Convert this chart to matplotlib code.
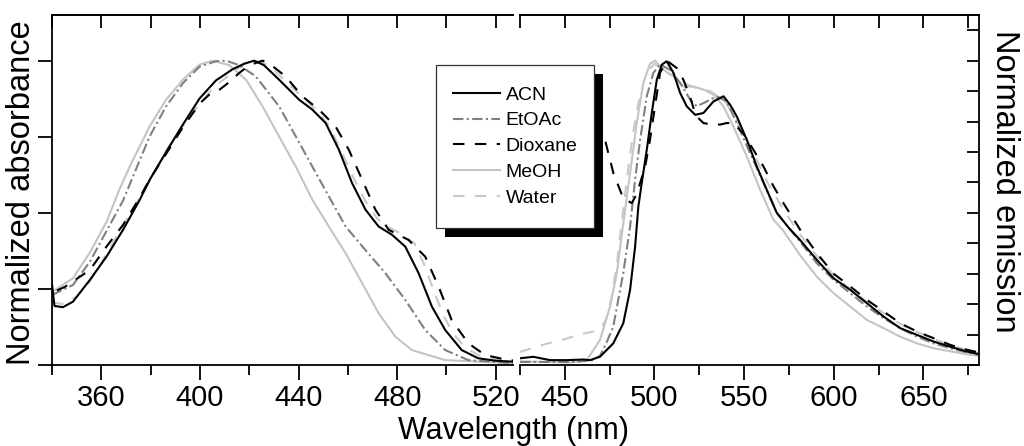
import matplotlib
matplotlib.use("Agg")
from matplotlib import pyplot as plt
from matplotlib.patches import Rectangle
from matplotlib.ticker import MultipleLocator, NullFormatter

plt.rcParams["font.family"] = ["Liberation Sans", "DejaVu Sans"]

labels = ["ACN", "EtOAc", "Dioxane", "MeOH", "Water"]
colors = ["#000000", "#808080", "#000000", "#c4c4c4", "#c8c8c8"]
styles = ["-", (0, (5, 1.6, 1, 1.6)), (0, (5.5, 5)), "-", (0, (5.5, 5))]

# absorbance spectra (left panel)
abs_acn_wl = [340, 341, 344.4, 348.5, 355.4, 362.1, 368.8, 375.6, 379.6, 386.3, 393.1, 399.8, 406.5,
              413.3, 418, 422, 426, 432.1, 440.2, 445.6, 451, 456.4, 461.7, 467.2, 472.5, 477.9,
              483.3, 488.7, 494.1, 499.5, 506.2, 512.9, 520, 527]
abs_acn = [0.266, 0.194, 0.19, 0.208, 0.28, 0.356, 0.444, 0.543, 0.608, 0.70, 0.79, 0.875, 0.935,
           0.972, 0.99, 1.0, 0.985, 0.9375, 0.872, 0.839, 0.795, 0.707, 0.598, 0.51, 0.455, 0.428,
           0.389, 0.302, 0.192, 0.115, 0.049, 0.022, 0.014, 0.011]

abs_etoac_wl = [340, 348.5, 355.4, 362.1, 368.8, 379.6, 386.3, 393.1, 399.8, 406.5, 410.6, 416,
                422.7, 432.1, 438.9, 445.6, 452.3, 459.1, 467.1, 475.2, 483.3, 491.4, 499.5, 508.9,
                527]
abs_etoac = [0.23, 0.263, 0.34, 0.44, 0.54, 0.751, 0.85, 0.926, 0.98, 0.998, 1.0, 0.985, 0.948,
             0.85, 0.751, 0.652, 0.554, 0.455, 0.378, 0.302, 0.214, 0.115, 0.049, 0.016, 0.006]

abs_diox_wl = [342, 345.3, 355.4, 362.1, 368.8, 375.6, 379.6, 386, 393, 400, 404, 408, 412, 416,
               420, 425.4, 429, 434.8, 441.5, 448.3, 455, 460.4, 465.8, 471.2, 476.6, 484.6, 491.4,
               496.8, 502.1, 508.9, 515.6, 525, 527]
abs_diox = [0.245, 0.257, 0.3125, 0.389, 0.46, 0.55, 0.61, 0.69, 0.78, 0.86, 0.89, 0.905, 0.93,
            0.96, 0.985, 1.0, 0.985, 0.948, 0.883, 0.839, 0.784, 0.707, 0.609, 0.51, 0.444, 0.411,
            0.356, 0.258, 0.148, 0.071, 0.033, 0.016, 0.015]

abs_meoh_wl = [340, 348.5, 355.4, 362.1, 367.5, 372, 379.6, 386.3, 393.1, 399.8, 405.2, 411.9,
               418.7, 425.4, 432.1, 438.9, 445.6, 452.3, 459.1, 465.8, 472.5, 479.3, 486, 499.5, 527]
abs_meoh = [0.24, 0.285, 0.37, 0.47, 0.58, 0.66, 0.784, 0.872, 0.9375, 0.987, 1.0, 0.985, 0.9375,
            0.85, 0.751, 0.652, 0.543, 0.455, 0.367, 0.269, 0.17, 0.093, 0.049, 0.016, 0.006]

abs_water_wl = [340, 345, 350, 355, 360, 366, 373, 380, 386, 393, 400, 406, 413, 418, 422, 428, 435,
                441, 447, 452, 457, 462, 467, 472, 477, 482, 487, 491, 495, 499, 503, 508, 514, 527]
abs_water = [0.205, 0.2, 0.225, 0.27, 0.335, 0.42, 0.515, 0.61, 0.70, 0.785, 0.86, 0.915, 0.96,
             0.99, 1.0, 0.985, 0.93, 0.885, 0.84, 0.79, 0.71, 0.62, 0.54, 0.48, 0.45, 0.43, 0.4,
             0.33, 0.24, 0.16, 0.1, 0.055, 0.028, 0.01]

# emission spectra (right panel)
em_acn_wl = [425, 432.4, 441.7, 451, 460.3, 464, 469.6, 477, 482.6, 486.4, 489.2, 491, 492.9, 495.7,
             498.5, 501.3, 504.1, 506.8, 510.6, 514.3, 518, 522.7, 527.3, 532.9, 538.5, 542.2,
             545.9, 551.5, 557.1, 562.6, 568.2, 575, 581.3, 590.6, 599.9, 609.2, 618.5, 627.8,
             637.1, 646.4, 655.7, 665, 674.3, 681]
em_acn = [0.022, 0.027, 0.016, 0.016, 0.018, 0.016, 0.027, 0.071, 0.137, 0.247, 0.389, 0.52, 0.598,
          0.707, 0.828, 0.9375, 0.987, 0.998, 0.96, 0.894, 0.85, 0.822, 0.828, 0.866, 0.883, 0.855,
          0.817, 0.74, 0.652, 0.576, 0.5, 0.45, 0.41, 0.345, 0.285, 0.247, 0.203, 0.159, 0.121,
          0.099, 0.077, 0.06, 0.044, 0.036]

em_etoac_wl = [425, 440, 455, 465, 469.6, 473, 477, 482.6, 486.4, 489.2, 492, 495.7, 499.4, 503.1,
               508.7, 514.3, 519.9, 523.6, 529.2, 534.7, 540.3, 545.9, 553.3, 560.8, 568.2, 575,
               581.3, 590.6, 599.9, 609.2, 618.5, 627.8, 637.1, 646.4, 655.7, 665, 674.3, 681]
em_etoac = [0.01, 0.01, 0.01, 0.015, 0.03, 0.07, 0.126, 0.302, 0.455, 0.609, 0.74, 0.883, 0.96,
            0.987, 0.97, 0.927, 0.872, 0.85, 0.866, 0.883, 0.866, 0.795, 0.696, 0.598, 0.5, 0.45,
            0.405, 0.334, 0.28, 0.236, 0.192, 0.154, 0.121, 0.093, 0.071, 0.055, 0.041, 0.033]

em_diox_wl = [468, 472.4, 477.1, 482.6, 487.3, 490, 492, 494.8, 497.5, 500.3, 503.1, 506.8, 512.4,
              516.1, 519.9, 523, 527.3, 532, 536.6, 540.3, 544, 549.6, 555.2, 560.8, 566.4, 571.9,
              581.3, 590.6, 599.9, 609.2, 618.5, 627.8, 637.1, 646.4, 655.7, 665, 674.3, 681]
em_diox = [0.80, 0.74, 0.63, 0.548, 0.532, 0.56, 0.598, 0.652, 0.74, 0.85, 0.96, 1.0, 0.976,
           0.9375, 0.88, 0.82, 0.795, 0.79, 0.79, 0.795, 0.795, 0.76, 0.707, 0.652, 0.587, 0.532,
           0.444, 0.367, 0.3, 0.258, 0.214, 0.176, 0.137, 0.11, 0.088, 0.066, 0.05, 0.041]

em_meoh_wl = [425, 440, 452.9, 462.2, 469.6, 475.2, 479, 482.6, 486.4, 490.1, 493.8, 497.5, 500.3,
              505, 510.6, 516.1, 521.7, 527.3, 532.9, 538.5, 544, 551.5, 558.9, 566.4, 572, 581.3,
              590.6, 599.9, 609.2, 618.5, 627.8, 637.1, 646.4, 655.7, 665, 674.3, 681]
em_meoh = [0.012, 0.01, 0.008, 0.016, 0.082, 0.192, 0.302, 0.466, 0.63, 0.795, 0.927, 0.99, 1.0,
           0.97, 0.948, 0.915, 0.915, 0.905, 0.888, 0.85, 0.784, 0.685, 0.576, 0.477, 0.44, 0.36,
           0.29, 0.236, 0.192, 0.148, 0.121, 0.093, 0.071, 0.055, 0.045, 0.035, 0.03]

em_water_wl = [425, 440, 450, 458, 462, 466, 470, 473, 476, 479, 482, 485, 488, 491, 494, 497, 500,
               503, 507, 511, 515, 519, 523, 527, 531, 535, 539, 543, 548, 555, 563, 572, 581, 591,
               600, 609, 618, 628, 637, 646, 656, 665, 674, 681]
em_water = [0.043, 0.07, 0.085, 0.1, 0.105, 0.11, 0.12, 0.15, 0.22, 0.33, 0.48, 0.63, 0.76, 0.86,
            0.93, 0.97, 0.99, 0.98, 0.96, 0.95, 0.93, 0.92, 0.91, 0.905, 0.9, 0.885, 0.87, 0.83,
            0.78, 0.7, 0.6, 0.51, 0.43, 0.355, 0.295, 0.25, 0.21, 0.17, 0.135, 0.11, 0.085, 0.065,
            0.05, 0.04]

abs_data = [(abs_acn_wl, abs_acn), (abs_etoac_wl, abs_etoac), (abs_diox_wl, abs_diox),
            (abs_meoh_wl, abs_meoh), (abs_water_wl, abs_water)]
em_data = [(em_acn_wl, em_acn), (em_etoac_wl, em_etoac), (em_diox_wl, em_diox),
           (em_meoh_wl, em_meoh), (em_water_wl, em_water)]

W, H = 1024, 446
fig = plt.figure(figsize=(W / 100, H / 100), dpi=100)
ax1 = fig.add_axes([52 / W, 81 / H, 461 / W, 350 / H])
ax2 = fig.add_axes([520 / W, 81 / H, 459 / W, 350 / H])

# draw order: light curves first so the dark ones sit on top
order = [3, 4, 1, 2, 0]
handles = {}
for i in order:
    x, y = abs_data[i]
    (ln,) = ax1.plot(x, y, color=colors[i], linestyle=styles[i], lw=1.5)
    handles[i] = ln
    x, y = em_data[i]
    ax2.plot(x, y, color=colors[i], linestyle=styles[i], lw=1.5)

lw_ax = 1.3
for ax in (ax1, ax2):
    ax.set_ylim(0, 1.15)
    for s in ax.spines.values():
        s.set_linewidth(lw_ax)
    ax.tick_params(axis="x", which="major", direction="out", length=11, width=lw_ax,
                   labelsize=21, pad=3, top=False)
    ax.tick_params(axis="x", which="minor", direction="out", length=7, width=lw_ax, top=False)

ax1.set_xlim(340, 527)
ax1.xaxis.set_major_locator(MultipleLocator(40))
ax1.xaxis.set_minor_locator(MultipleLocator(20))
ax1.spines["right"].set_visible(False)
ax1.yaxis.set_major_locator(MultipleLocator(0.25))
ax1.yaxis.set_major_formatter(NullFormatter())
ax1.tick_params(axis="y", direction="out", length=10, width=lw_ax)
top1 = ax1.secondary_xaxis("top")
top1.xaxis.set_major_locator(MultipleLocator(20))
top1.xaxis.set_major_formatter(NullFormatter())
top1.tick_params(direction="in", length=9, width=lw_ax)
top1.spines["top"].set_linewidth(lw_ax)

ax2.set_xlim(425, 681)
ax2.xaxis.set_major_locator(MultipleLocator(50))
ax2.xaxis.set_minor_locator(MultipleLocator(25))
ax2.spines["left"].set_visible(False)
ax2.yaxis.set_major_locator(MultipleLocator(0.1))
ax2.yaxis.set_major_formatter(NullFormatter())
ax2.tick_params(axis="y", direction="in", length=9, width=lw_ax, left=False, right=True)
top2 = ax2.secondary_xaxis("top")
top2.xaxis.set_major_locator(MultipleLocator(25))
top2.xaxis.set_major_formatter(NullFormatter())
top2.tick_params(direction="in", length=9, width=lw_ax)
top2.spines["top"].set_linewidth(lw_ax)

fig.text(514 / W, 1 - 431 / H, "Wavelength (nm)", ha="center", va="center", fontsize=22)
fig.text(22 / W, 1 - 193 / H, "Normalized absorbance", ha="center", va="center",
         rotation=90, fontsize=23.5)
fig.text(1004 / W, 1 - 181 / H, "Normalized emission", ha="center", va="center",
         rotation=270, fontsize=23.5)

# legend without frame; frame and offset black shadow drawn around it
leg = fig.legend([handles[i] for i in range(5)], labels, loc="upper left",
                 bbox_to_anchor=(453 / W, 1 - 86 / H), bbox_transform=fig.transFigure,
                 fontsize=14, frameon=False, borderpad=0, labelspacing=0.42,
                 handlelength=2.4, handletextpad=0.3, borderaxespad=0)
leg.set_zorder(7)

fig.canvas.draw()
bb = leg.get_window_extent()
padx, pady, off = 17, 21, 9
x0, y0 = bb.x0 - padx, bb.y0 - pady
bw, bh = bb.width + 2 * padx, bb.height + 2 * pady
fig.add_artist(Rectangle(((x0 + off) / W, (y0 - off) / H), bw / W, bh / H,
                         transform=fig.transFigure, facecolor="black", edgecolor="none",
                         zorder=5))
fig.add_artist(Rectangle((x0 / W, y0 / H), bw / W, bh / H, transform=fig.transFigure,
                         facecolor="white", edgecolor="#333333", lw=0.9, zorder=6))

fig.savefig("out.png", dpi=100)
